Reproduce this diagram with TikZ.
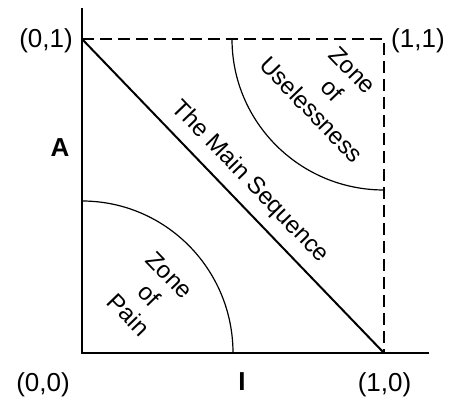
\documentclass[tikz,border=0pt]{standalone}
\usepackage{fontspec}
\setmainfont{Liberation Sans}
\begin{document}
\begin{tikzpicture}[x=1pt,y=1pt,
  axis/.style={line width=2.2pt},
  mainseq/.style={line width=2pt},
  dashedbox/.style={line width=1.4pt, dash pattern=on 12pt off 6pt},
  zonearc/.style={line width=1.2pt},
  lbl/.style={font=\fontsize{26}{30}\selectfont, inner sep=0pt},
  axlbl/.style={font=\fontsize{26}{30}\selectfont\bfseries, inner sep=0pt},
  rottext/.style={font=\fontsize{24}{28.5}\selectfont, inner sep=0pt, rotate=-46, align=center}]
\useasboundingbox (0,0) rectangle (466,410);
\coordinate (O) at (82,57);
\coordinate (X) at (384,57);
\coordinate (Y) at (82,371);
\coordinate (XY) at (384,371);
\coordinate (yend) at (82,402);
\coordinate (xend) at (429,57);
\draw[axis] (yend) -- (O) -- (xend);
\draw[dashedbox] (Y) -- (XY) -- (X);
\draw[mainseq] (Y) -- (X);
\draw[zonearc] (O) ++(151pt,0) arc[start angle=0, end angle=90, x radius=151pt, y radius=152pt];
\draw[zonearc] (XY) ++(-152pt,0) arc[start angle=180, end angle=270, x radius=152pt, y radius=151pt];
\node[lbl, anchor=east] (l01) at (73,369) {(0,1)};
\node[lbl, anchor=west] (l11) at (391,369) {(1,1)};
\node[lbl] (l00) at (43,25) {(0,0)};
\node[lbl] (l10) at (384.5,25) {(1,0)};
\node[axlbl] (lI) at (242,28) {I};
\node[axlbl] (lA) at (60,262) {A};
\node[rottext] (ms) at (250,228) {The Main Sequence};
\node[rottext] (pain) at (149,115) {Zone\\of\\Pain};
\node[rottext] (useless) at (332,320) {Zone\\of\\Uselessness};
\end{tikzpicture}
\end{document}
